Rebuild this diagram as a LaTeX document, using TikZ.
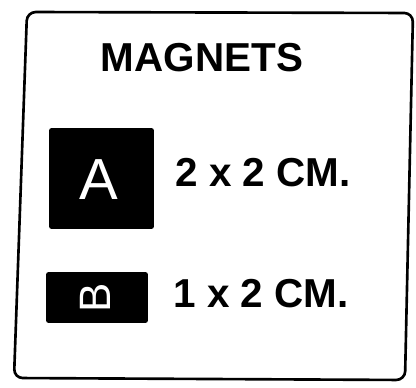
\documentclass[tikz,border=0pt]{standalone}
\usepackage{fontspec}
\setmainfont{Liberation Sans}
\usepackage{xcolor}
\usepackage{tikz}

\begin{document}
\begin{tikzpicture}[x=0.02cm, y=-0.02cm,
    every node/.style={inner sep=0pt},
    label text/.style={font=\fontsize{23}{27}\selectfont\bfseries},
    magnet/.style={fill=black, rounded corners=1.5pt}]
  \useasboundingbox (0,0) rectangle (416,388);
  % outer card
  \draw[line width=1.5pt, rounded corners=5pt] (27,12) -- (413,13) -- (405,380) -- (14,378) -- cycle;
  \node[label text, anchor=base] (title) at (202,72) {MAGNETS};
  % magnet A
  \node[magnet, minimum width=2.1cm, minimum height=2.02cm] (magA) at (101.5,178.5) {};
  \node[anchor=base, text=white, font=\fontsize{33}{38}\selectfont] (letterA) at (99,200) {A};
  \node[label text, anchor=base west] (sizeA) at (175,187) {2 x 2 CM.};
  % magnet B
  \node[magnet, minimum width=2.04cm, minimum height=1.02cm] (magB) at (97,297.5) {};
  \node[rotate=90, text=white, font=\fontsize{25}{28}\selectfont] (letterB) at (95,298) {B};
  \node[label text, anchor=base west] (sizeB) at (173,308) {1 x 2 CM.};
\end{tikzpicture}
\end{document}
